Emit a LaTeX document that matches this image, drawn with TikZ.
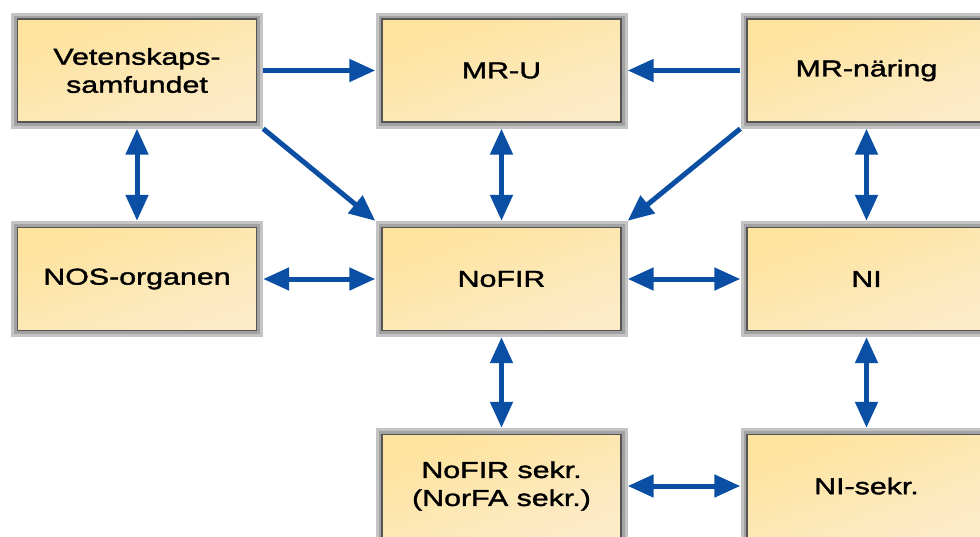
\documentclass[tikz,border=0pt]{standalone}
\usepackage{fontspec}
\setmainfont[FakeStretch=1.32,FakeBold=1.6]{Liberation Sans}
\usetikzlibrary{arrows.meta}
\definecolor{framelight}{HTML}{C4C4C4}
\definecolor{framedark}{HTML}{A2A2A2}
\definecolor{innerline}{HTML}{555555}
\definecolor{yellowA}{HTML}{FDE39C}
\definecolor{yellowB}{HTML}{FDEBC8}
\definecolor{arrowblue}{HTML}{0A4FA3}
\tikzset{
  outerbox/.style={minimum width=252pt, minimum height=116pt, inner sep=0pt, fill=framelight, draw=none},
  midbox/.style={minimum width=246pt, minimum height=110pt, inner sep=0pt, fill=framedark, draw=none},
  innerbox/.style={minimum width=239pt, minimum height=103pt, inner sep=0pt, draw=innerline, line width=1.1pt,
    top color=yellowA, bottom color=yellowB, shading angle=20, align=center,
    font=\fontsize{23}{28}\selectfont},
  tip/.style={Triangle[length=26pt,width=22pt]},
  link/.style={draw=arrowblue, line width=5pt, -{Triangle[length=26pt,width=22pt]}},
  dlink/.style={draw=arrowblue, line width=5pt, {Triangle[length=26pt,width=22pt]}-{Triangle[length=26pt,width=22pt]}}
}
\begin{document}
\begin{tikzpicture}[x=1pt,y=-1pt]
\clip (0,0) rectangle (980,536);
\fill[white] (0,0) rectangle (980,536);
% boxes
\node[outerbox] (vs) at (137,70.5) {};
\node[midbox] (vs-mid) at (vs) {};
\node[innerbox] (vs-in) at (vs) {Vetenskaps-\\samfundet};
\node[outerbox] (mru) at (501.5,70.5) {};
\node[midbox] (mru-mid) at (mru) {};
\node[innerbox] (mru-in) at (mru) {MR-U};
\node[outerbox] (mrn) at (866.5,70.5) {};
\node[midbox] (mrn-mid) at (mrn) {};
\node[innerbox] (mrn-in) at (mrn) {MR-näring};
\node[outerbox] (nos) at (137,279) {};
\node[midbox] (nos-mid) at (nos) {};
\node[innerbox] (nos-in) at (nos) {NOS-organen};
\node[outerbox] (nofir) at (501.5,279) {};
\node[midbox] (nofir-mid) at (nofir) {};
\node[innerbox] (nofir-in) at (nofir) {NoFIR};
\node[outerbox] (ni) at (866.5,279) {};
\node[midbox] (ni-mid) at (ni) {};
\node[innerbox] (ni-in) at (ni) {NI};
\node[outerbox] (nfs) at (501.5,486) {};
\node[midbox] (nfs-mid) at (nfs) {};
\node[innerbox] (nfs-in) at (nfs) {NoFIR sekr.\\(NorFA sekr.)};
\node[outerbox] (nis) at (866.5,486) {};
\node[midbox] (nis-mid) at (nis) {};
\node[innerbox] (nis-in) at (nis) {NI-sekr.};
% connectors
\draw[link] (vs.east) -- (mru.west);
\draw[link] (mrn.west) -- (mru.east);
\draw[link] (vs.south east) -- (nofir.north west);
\draw[link] (mrn.south west) -- (nofir.north east);
\draw[dlink] (vs.south) -- (nos.north);
\draw[dlink] (mru.south) -- (nofir.north);
\draw[dlink] (mrn.south) -- (ni.north);
\draw[dlink] (nos.east) -- (nofir.west);
\draw[dlink] (nofir.east) -- (ni.west);
\draw[dlink] (nofir.south) -- (nfs.north);
\draw[dlink] (ni.south) -- (nis.north);
\draw[dlink] (nfs.east) -- (nis.west);
\end{tikzpicture}
\end{document}
